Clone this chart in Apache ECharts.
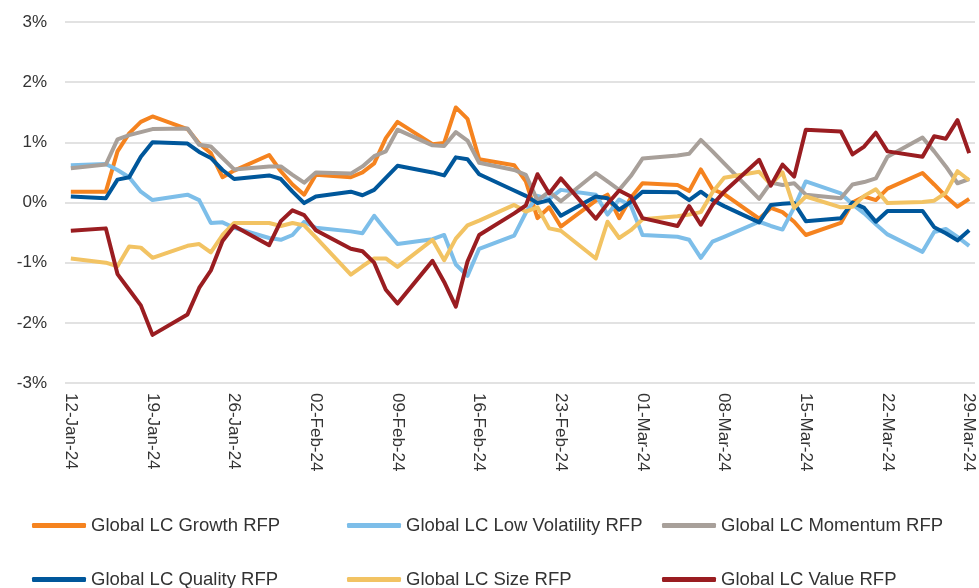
<!DOCTYPE html>
<html><head><meta charset="utf-8">
<script src="https://cdn.jsdelivr.net/npm/echarts@6/dist/echarts.min.js"></script>
<style>html,body{margin:0;padding:0;background:#fff}#c{width:979px;height:588px}</style>
</head><body><div id="c"></div>
<script>
const dates = ['2024-01-12','2024-01-15','2024-01-16','2024-01-17','2024-01-18','2024-01-19','2024-01-22','2024-01-23','2024-01-24','2024-01-25',
'2024-01-26','2024-01-29','2024-01-30','2024-01-31','2024-02-01','2024-02-02','2024-02-05','2024-02-06','2024-02-07','2024-02-08',
'2024-02-09','2024-02-12','2024-02-13','2024-02-14','2024-02-15','2024-02-16','2024-02-19','2024-02-20','2024-02-21','2024-02-22',
'2024-02-23','2024-02-26','2024-02-27','2024-02-28','2024-02-29','2024-03-01','2024-03-04','2024-03-05','2024-03-06','2024-03-07',
'2024-03-08','2024-03-11','2024-03-12','2024-03-13','2024-03-14','2024-03-15','2024-03-18','2024-03-19','2024-03-20','2024-03-21',
'2024-03-22','2024-03-25','2024-03-26','2024-03-27','2024-03-28','2024-03-29'];

const growth = [0.18,0.18,0.85,1.15,1.34,1.43,1.22,0.98,0.82,0.42,0.53,0.79,0.52,0.30,0.13,0.46,0.42,0.50,0.65,1.07,1.34,0.97,0.99,1.58,1.39,0.72,0.62,0.35,-0.26,-0.08,-0.40,0.03,0.13,-0.26,0.08,0.32,0.29,0.19,0.55,0.22,0.14,-0.27,-0.09,-0.16,-0.32,-0.54,-0.34,0.00,0.10,0.04,0.23,0.49,0.30,0.10,-0.07,0.06];
const lowVol = [0.62,0.64,0.54,0.42,0.18,0.04,0.13,0.04,-0.34,-0.33,-0.42,-0.59,-0.62,-0.54,-0.32,-0.42,-0.48,-0.51,-0.22,-0.46,-0.69,-0.61,-0.54,-1.03,-1.22,-0.77,-0.55,-0.17,0.11,0.06,0.21,0.13,-0.20,0.05,-0.05,-0.54,-0.57,-0.62,-0.92,-0.65,-0.57,-0.32,-0.39,-0.45,-0.08,0.35,0.15,-0.03,-0.18,-0.36,-0.53,-0.82,-0.49,-0.44,-0.57,-0.72];
const momentum = [0.57,0.63,1.05,1.12,1.17,1.22,1.23,0.96,0.93,0.74,0.55,0.60,0.60,0.46,0.33,0.50,0.48,0.60,0.77,0.85,1.21,0.95,0.94,1.17,1.03,0.66,0.54,0.46,0.03,0.18,0.02,0.49,0.35,0.21,0.44,0.73,0.78,0.81,1.04,0.85,0.65,0.06,0.33,0.29,0.32,0.13,0.07,0.30,0.34,0.40,0.76,1.08,0.85,0.60,0.32,0.39];
const quality = [0.10,0.07,0.38,0.42,0.76,1.00,0.98,0.84,0.74,0.54,0.39,0.45,0.39,0.18,-0.01,0.10,0.18,0.12,0.21,0.41,0.61,0.50,0.45,0.75,0.72,0.47,0.20,0.11,-0.01,0.04,-0.22,0.10,0.07,-0.12,0.01,0.18,0.17,0.04,0.18,0.04,-0.06,-0.33,-0.04,-0.02,-0.01,-0.31,-0.26,0.00,-0.09,-0.32,-0.14,-0.14,-0.41,-0.51,-0.63,-0.46];
const size = [-0.93,-1.00,-1.06,-0.73,-0.75,-0.92,-0.72,-0.69,-0.83,-0.54,-0.34,-0.34,-0.39,-0.34,-0.38,-0.58,-1.20,-1.06,-0.93,-0.93,-1.07,-0.62,-0.96,-0.60,-0.38,-0.30,-0.04,-0.15,-0.08,-0.43,-0.47,-0.93,-0.32,-0.59,-0.46,-0.28,-0.23,-0.20,-0.16,0.17,0.41,0.51,0.30,0.50,-0.09,0.10,-0.08,-0.07,0.11,0.22,-0.01,0.01,0.03,0.16,0.52,0.37];
const value = [-0.47,-0.43,-1.19,-1.45,-1.71,-2.20,-1.86,-1.42,-1.13,-0.64,-0.39,-0.71,-0.31,-0.13,-0.21,-0.46,-0.77,-0.81,-1.00,-1.45,-1.68,-0.97,-1.32,-1.73,-0.98,-0.54,-0.18,-0.05,0.47,0.15,0.40,-0.27,-0.02,0.20,0.10,-0.26,-0.39,-0.06,-0.37,-0.04,0.18,0.71,0.28,0.63,0.43,1.21,1.18,0.80,0.93,1.16,0.85,0.76,1.10,1.06,1.37,0.82];

const seriesNames = ['Global LC Growth RFP','Global LC Low Volatility RFP','Global LC Momentum RFP','Global LC Quality RFP','Global LC Size RFP','Global LC Value RFP'];
const tickDates = ['2024-01-12','2024-01-19','2024-01-26','2024-02-02','2024-02-09','2024-02-16','2024-02-23','2024-03-01','2024-03-08','2024-03-15','2024-03-22','2024-03-29'];
const tickLabels = ['12-Jan-24','19-Jan-24','26-Jan-24','02-Feb-24','09-Feb-24','16-Feb-24','23-Feb-24','01-Mar-24','08-Mar-24','15-Mar-24','22-Mar-24','29-Mar-24'];
const yTicks = [-3,-2,-1,0,1,2,3];

const colors = ['#F5831F','#7DBEE9','#A8A09A','#00579B','#F2C363','#9A1D21'];
const values = [growth, lowVol, momentum, quality, size, value];

const base = Date.parse(dates[0] + 'T00:00:00Z');
const dayOf = d => Math.round((Date.parse(d + 'T00:00:00Z') - base) / 86400000);
const tickDays = tickDates.map(dayOf);
const lastDay = dayOf(dates[dates.length - 1]);

const font = "'Liberation Sans', Arial, sans-serif";
const textColor = '#333333';

const legendPos = [[32,516],[347,516],[662,516],[32,570],[347,570],[662,570]];

const chart = echarts.init(document.getElementById('c'), null, {renderer: 'canvas'});
chart.setOption({
  animation: false,
  backgroundColor: '#fff',
  grid: {left: 65, right: 4, top: 22, bottom: 205},
  xAxis: {
    type: 'value', min: -0.5, max: lastDay + 0.5,
    axisLine: {show: false}, axisTick: {show: false}, splitLine: {show: false},
    axisLabel: {
      customValues: tickDays, rotate: -90, margin: 10,
      fontSize: 17, color: textColor, fontFamily: font,
      formatter: v => { const i = tickDays.indexOf(Math.round(v)); return i >= 0 ? tickLabels[i] : ''; }
    }
  },
  yAxis: {
    type: 'value', min: yTicks[0], max: yTicks[yTicks.length - 1], interval: 1,
    axisLine: {show: false}, axisTick: {show: false},
    axisLabel: {formatter: '{value}%', fontSize: 17, margin: 18, color: textColor, fontFamily: font},
    splitLine: {lineStyle: {color: '#D9D9D9', width: 1.5}}
  },
  legend: seriesNames.map((n, i) => ({
    data: [n], left: legendPos[i][0], top: legendPos[i][1], padding: 0,
    icon: 'roundRect', itemWidth: 54, itemHeight: 5,
    textStyle: {fontSize: 18.5, color: textColor, fontFamily: font}
  })),
  series: seriesNames.map((n, i) => ({
    name: n, type: 'line', showSymbol: false, symbol: 'none',
    data: dates.map((d, j) => [dayOf(d), values[i][j]]),
    lineStyle: {width: 4, color: colors[i], join: 'round'},
    itemStyle: {color: colors[i]}
  }))
});
</script></body></html>
